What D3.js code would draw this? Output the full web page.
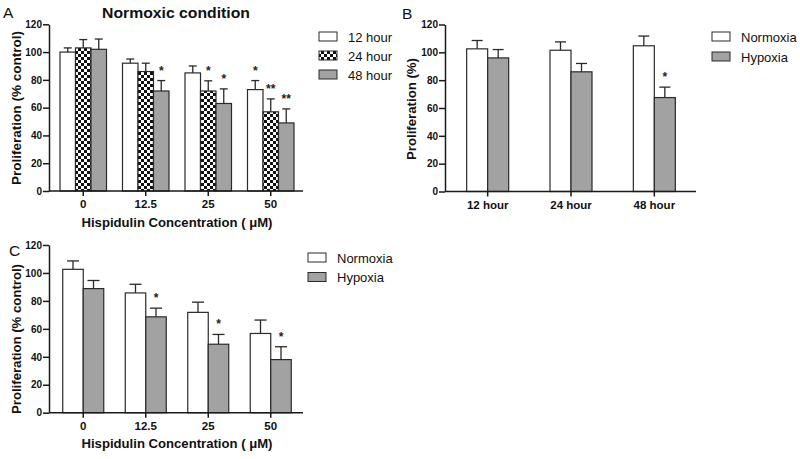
<!DOCTYPE html>
<html>
<head>
<meta charset="utf-8">
<script src="https://cdn.jsdelivr.net/npm/d3@7"></script>
<style>
  html, body { margin: 0; padding: 0; background: #fff; }
  svg { display: block; }
  text { font-family: "Liberation Sans", Arial, sans-serif; }
</style>
</head>
<body>
<script>
// ---------- DATA ----------
const concentrations = ["0", "12.5", "25", "50"];
const hourLabels = ["12 hour", "24 hour", "48 hour"];

// Panel A: Normoxic condition
const a12Mean = [100, 92, 85, 73];
const a12Err  = [3, 3, 5, 6.5];
const a12Star = ["", "", "", "*"];
const a24Mean = [103, 86, 72, 57];
const a24Err  = [6, 6, 7.3, 9.3];
const a24Star = ["", "", "*", "**"];
const a48Mean = [102, 72, 63, 49];
const a48Err  = [7.4, 7.5, 10.5, 10.1];
const a48Star = ["", "*", "*", "**"];

// Panel B: Normoxia vs Hypoxia over time
const timeLabels = ["12 hour", "24 hour", "48 hour"];
const bNormMean = [102.5, 101.5, 104.7];
const bNormErr  = [6, 6, 7];
const bHypMean  = [96, 86, 67.5];
const bHypErr   = [6, 6, 7.5];
const bHypStar  = ["", "", "*"];

// Panel C: Normoxia vs Hypoxia by concentration
const cNormMean = [102.6, 85.7, 71.8, 56.7];
const cNormErr  = [6, 6.2, 7.3, 9.6];
const cHypMean  = [88.8, 68.6, 49, 38];
const cHypErr   = [5.8, 6.2, 7, 9.2];
const cHypStar  = ["", "*", "*", "*"];

const condLabels = ["Normoxia", "Hypoxia"];
const yTicks = [0, 20, 40, 60, 80, 100, 120];

// ---------- DRAW ----------
const W = 800, H = 459;
const svg = d3.select("body").append("svg").attr("width", W).attr("height", H);

const defs = svg.append("defs");
const pat = defs.append("pattern").attr("id", "checker")
  .attr("patternUnits", "userSpaceOnUse").attr("width", 6).attr("height", 6);
pat.append("rect").attr("width", 6).attr("height", 6).attr("fill", "#fff");
pat.append("rect").attr("x", 0).attr("y", 0).attr("width", 3).attr("height", 3).attr("fill", "#111");
pat.append("rect").attr("x", 3).attr("y", 3).attr("width", 3).attr("height", 3).attr("fill", "#111");

const GRAY = "#a2a2a2";
const STROKE = "#2a2a2a";

function panel(opts) {
  const g = svg.append("g");
  const x = d3.scaleBand().domain(opts.cats).range(opts.xRange).paddingInner(0).paddingOuter(0);
  const y = d3.scaleLinear().domain([0, 120]).range(opts.yRange);
  const keys = opts.series.map((s, i) => i);
  const inner = d3.scaleBand().domain(keys)
    .range([-opts.barW * keys.length / 2, opts.barW * keys.length / 2]);

  // bars
  opts.series.forEach((s, si) => {
    const data = opts.cats.map((c, i) => ({ c, v: s.mean[i], e: s.err[i], star: s.star[i] }));
    const cx = d => x(d.c) + x.bandwidth() / 2 + inner(si);
    g.append("g").selectAll("line").data(data).join("line")
      .attr("x1", d => cx(d) + inner.bandwidth() / 2).attr("x2", d => cx(d) + inner.bandwidth() / 2)
      .attr("y1", d => y(d.v)).attr("y2", d => y(d.v + d.e))
      .attr("stroke", STROKE).attr("stroke-width", 1.3);
    g.append("g").selectAll("line").data(data).join("line")
      .attr("x1", d => cx(d) + inner.bandwidth() / 2 - opts.cap)
      .attr("x2", d => cx(d) + inner.bandwidth() / 2 + opts.cap)
      .attr("y1", d => y(d.v + d.e)).attr("y2", d => y(d.v + d.e))
      .attr("stroke", STROKE).attr("stroke-width", 1.3);
    g.append("g").selectAll("rect").data(data).join("rect")
      .attr("x", d => cx(d)).attr("width", inner.bandwidth())
      .attr("y", d => y(d.v)).attr("height", d => y(0) - y(d.v))
      .attr("fill", s.fill).attr("stroke", STROKE).attr("stroke-width", 1.2);
    g.append("g").selectAll("text").data(data.filter(d => d.star)).join("text")
      .attr("x", d => cx(d) + inner.bandwidth() / 2)
      .attr("y", d => y(d.v + d.e) - 6)
      .attr("text-anchor", "middle")
      .attr("font-size", 12).attr("font-weight", "bold").attr("fill", "#222")
      .text(d => d.star);
  });

  // axes
  const yAxis = g.append("g").attr("transform", `translate(${opts.axisX},0)`)
    .call(d3.axisLeft(y).tickValues(yTicks).tickSize(6).tickSizeOuter(0).tickPadding(1));
  yAxis.selectAll("text").attr("font-size", 10);
  const xAxis = g.append("g").attr("transform", `translate(0,${y(0)})`)
    .call(d3.axisBottom(x).tickSize(5).tickSizeOuter(0).tickPadding(4));
  xAxis.select(".domain").remove();
  xAxis.selectAll("text").attr("font-size", 11.5);
  g.append("line").attr("x1", opts.axisX).attr("x2", opts.xEnd)
    .attr("y1", y(0)).attr("y2", y(0)).attr("stroke", "#1a1a1a").attr("stroke-width", 1.5);
  [yAxis, xAxis].forEach(a => {
    a.selectAll("path, line").attr("stroke", "#1a1a1a").attr("stroke-width", 1.5);
    a.selectAll("text").attr("font-weight", "bold").attr("fill", "#111")
      .attr("font-family", "Liberation Sans, Arial, sans-serif");
  });

  // y title
  g.append("text")
    .attr("transform", `translate(${opts.yTitleX},${opts.yTitleY}) rotate(-90)`)
    .attr("text-anchor", "middle").attr("font-size", 12.5).attr("font-weight", "bold").attr("fill", "#111")
    .attr("textLength", opts.yTitleLen).attr("lengthAdjust", "spacingAndGlyphs")
    .text(opts.yTitle);
  if (opts.xTitle) {
    g.append("text").attr("x", 177).attr("y", y(0) + 35.5)
      .attr("text-anchor", "middle").attr("font-size", 12.5).attr("font-weight", "bold").attr("fill", "#111")
      .attr("textLength", 191).attr("lengthAdjust", "spacingAndGlyphs")
      .text(opts.xTitle);
  }
  // legend
  opts.series.forEach((s, si) => {
    const ly = opts.legY + si * opts.legStep;
    g.append("rect").attr("x", opts.legX).attr("y", ly).attr("width", 18).attr("height", 9)
      .attr("fill", s.fill).attr("stroke", STROKE).attr("stroke-width", 1);
    g.append("text").attr("x", opts.legX + 29).attr("y", ly + 9.5)
      .attr("font-size", 13).attr("fill", "#111").text(s.name);
  });
  // panel letter
  g.append("text").attr("x", opts.letterX).attr("y", opts.letterY)
    .attr("font-size", 15.5).attr("fill", "#111").text(opts.letter);
  return g;
}

panel({
  cats: concentrations, xRange: [52, 302], axisX: 49, xEnd: 303, yRange: [191, 24.3], barW: 15.5, cap: 4,
  series: [
    { name: hourLabels[0], mean: a12Mean, err: a12Err, star: a12Star, fill: "#fff" },
    { name: hourLabels[1], mean: a24Mean, err: a24Err, star: a24Star, fill: "url(#checker)" },
    { name: hourLabels[2], mean: a48Mean, err: a48Err, star: a48Star, fill: GRAY }
  ],
  yTitle: "Proliferation (% control)", yTitleX: 21, yTitleY: 108, yTitleLen: 154,
  xTitle: "Hispidulin Concentration ( \u03BCM)",
  legX: 319, legY: 32, legStep: 19, letter: "A", letterX: 3, letterY: 18
});
svg.append("text").attr("x", 176).attr("y", 18).attr("text-anchor", "middle")
  .attr("font-size", 15).attr("font-weight", "bold").attr("fill", "#111")
  .attr("textLength", 148).attr("lengthAdjust", "spacingAndGlyphs")
  .text("Normoxic condition");

panel({
  cats: timeLabels, xRange: [446, 696], axisX: 445, xEnd: 696, yRange: [191.5, 24.5], barW: 21, cap: 5.5,
  series: [
    { name: condLabels[0], mean: bNormMean, err: bNormErr, star: ["", "", ""], fill: "#fff" },
    { name: condLabels[1], mean: bHypMean, err: bHypErr, star: bHypStar, fill: GRAY }
  ],
  yTitle: "Proliferation (%)", yTitleX: 416, yTitleY: 109, yTitleLen: 102,
  legX: 712, legY: 32, legStep: 20, letter: "B", letterX: 402, letterY: 19
});

panel({
  cats: concentrations, xRange: [52, 302], axisX: 49, xEnd: 303, yRange: [412.7, 245], barW: 20.5, cap: 6,
  series: [
    { name: condLabels[0], mean: cNormMean, err: cNormErr, star: ["", "", "", ""], fill: "#fff" },
    { name: condLabels[1], mean: cHypMean, err: cHypErr, star: cHypStar, fill: GRAY }
  ],
  yTitle: "Proliferation (% control)", yTitleX: 21, yTitleY: 339, yTitleLen: 150,
  xTitle: "Hispidulin Concentration ( \u03BCM)",
  legX: 308, legY: 253, legStep: 19.5, letter: "C", letterX: 9, letterY: 256
});
</script>
</body>
</html>
